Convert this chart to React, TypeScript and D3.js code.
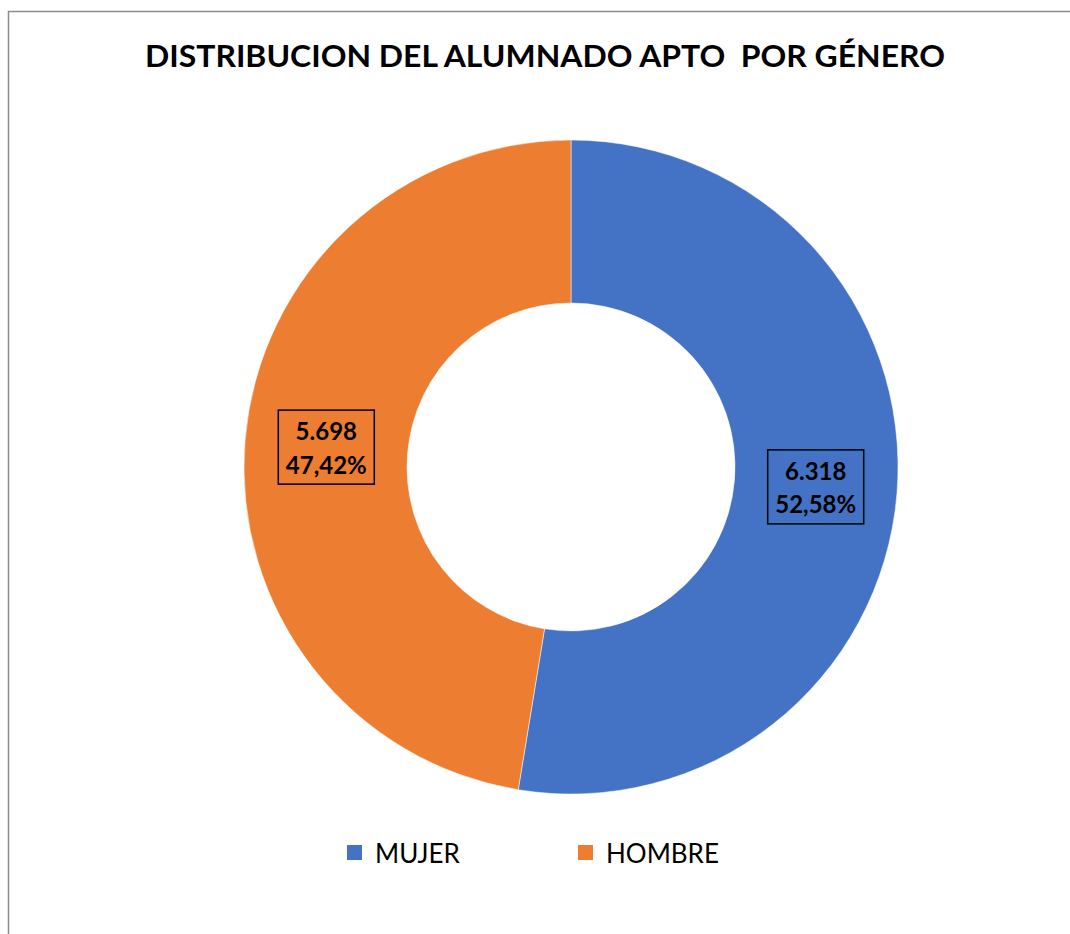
import React from "react";
import * as d3 from "d3";

const categories = ["MUJER", "HOMBRE"];
const values = [6318, 5698];
const valueLabels = ["6.318", "5.698"];
const percentLabels = ["52,58%", "47,42%"];
const colors = ["#4472C4", "#ED7D31"];
const title = "DISTRIBUCION DEL ALUMNADO APTO\u00A0\u00A0POR GÉNERO";

export default function App() {
  const W = 1070, H = 934;
  const cx = 571, cy = 467, R = 327, r = 164;
  const pie = d3.pie<number>().sort(null).value((d) => d)(values);
  const arc = d3.arc<d3.PieArcDatum<number>>().innerRadius(r).outerRadius(R);
  const font = "Lato, 'Open Sans', sans-serif";
  const legendX = [347, 578];
  return (
    <svg width={W} height={H} style={{ position: "absolute", left: 0, top: 0 }}>
      <rect x={0} y={0} width={W} height={H} fill="#fff" />
      <rect x={8.5} y={11.5} width={W + 20} height={H + 20} fill="none" stroke="#8c8c8c" strokeWidth={1.5} />
      <text x={545} y={67} textAnchor="middle" fontFamily={font} fontWeight="bold" fontSize={31} fill="#000" textLength={800} lengthAdjust="spacingAndGlyphs">
        {title}
      </text>
      <g transform={`translate(${cx},${cy})`}>
        {pie.map((p, i) => (
          <path key={i} d={arc(p) || ""} fill={colors[i]} stroke="#fff" strokeWidth={0.5} />
        ))}
        {pie.map((p, i) => {
          const [lx, ly] = arc.centroid(p);
          return (
            <g key={"l" + i} transform={`translate(${lx},${ly})`}>
              <rect x={-48} y={-37} width={96} height={74} fill="none" stroke="#000" strokeWidth={1.5} />
              <text x={0} y={-7} textAnchor="middle" fontFamily={font} fontWeight="bold" fontSize={24} fill="#000">
                {valueLabels[i]}
              </text>
              <text x={0} y={26.5} textAnchor="middle" fontFamily={font} fontWeight="bold" fontSize={24} fill="#000">
                {percentLabels[i]}
              </text>
            </g>
          );
        })}
      </g>
      {categories.map((c, i) => (
        <g key={"lg" + i}>
          <rect x={legendX[i]} y={845} width={15} height={15} fill={colors[i]} />
          <text x={legendX[i] + 28} y={863} fontFamily={font} fontSize={26} fill="#000">
            {c}
          </text>
        </g>
      ))}
    </svg>
  );
}
